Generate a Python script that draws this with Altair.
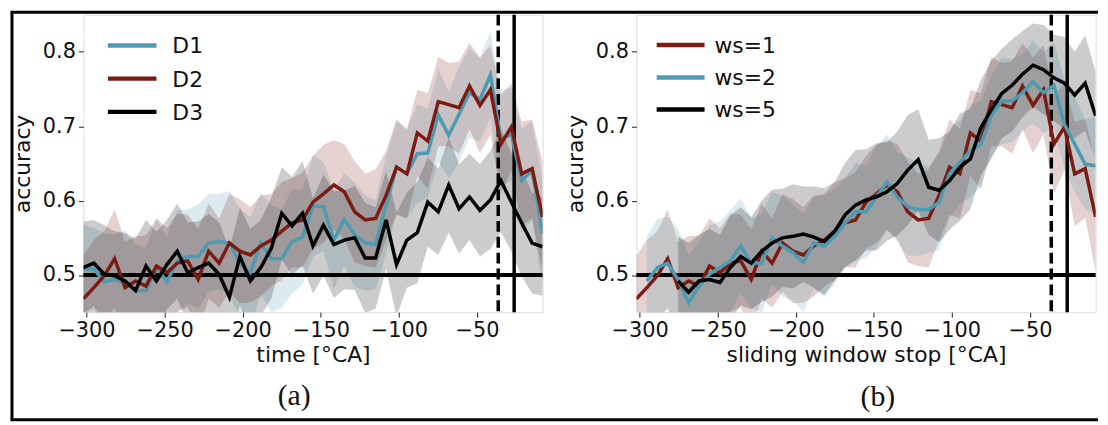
import altair as alt
import pandas as pd

# ---------------- data ----------------
x_deg = [-302.0, -295.3, -288.6, -282.0, -275.3, -268.6, -261.9, -255.2, -248.5, -241.9,
         -235.2, -228.5, -221.8, -215.1, -208.5, -201.8, -195.1, -188.4, -181.7, -175.0,
         -168.4, -161.7, -155.0, -148.3, -141.6, -135.0, -128.3, -121.6, -114.9, -108.2,
         -101.5, -94.9, -88.2, -81.5, -74.8, -68.1, -61.5, -54.8, -48.1, -41.4,
         -34.7, -28.0, -21.4, -14.7, -8.0]

x_ticks = [-300, -250, -200, -150, -100, -50]
y_ticks = [0.5, 0.6, 0.7, 0.8]

# panel (a)
d1 = [0.508, 0.508, 0.491, 0.494, 0.490, 0.479, 0.479, 0.510, 0.491, 0.519,
      0.525, 0.525, 0.543, 0.545, 0.543, 0.516, 0.503, 0.543, 0.522, 0.522,
      0.545, 0.551, 0.593, 0.592, 0.547, 0.575, 0.554, 0.543, 0.541, 0.594,
      0.645, 0.636, 0.663, 0.664, 0.715, 0.688, 0.716, 0.745, 0.736, 0.769,
      0.683, 0.689, 0.627, 0.640, 0.556]
d2 = [0.468, 0.483, 0.499, 0.522, 0.483, 0.492, 0.485, 0.512, 0.503, 0.516,
      0.519, 0.494, 0.532, 0.516, 0.543, 0.532, 0.527, 0.539, 0.547, 0.559,
      0.570, 0.574, 0.598, 0.609, 0.621, 0.612, 0.585, 0.574, 0.576, 0.607,
      0.645, 0.636, 0.691, 0.680, 0.733, 0.729, 0.725, 0.754, 0.728, 0.749,
      0.676, 0.699, 0.636, 0.643, 0.578]
d3 = [0.510, 0.516, 0.501, 0.499, 0.492, 0.479, 0.512, 0.492, 0.514, 0.532,
      0.503, 0.510, 0.516, 0.501, 0.470, 0.525, 0.492, 0.510, 0.536, 0.583,
      0.566, 0.583, 0.539, 0.567, 0.541, 0.547, 0.550, 0.523, 0.523, 0.574,
      0.514, 0.547, 0.557, 0.598, 0.585, 0.621, 0.589, 0.605, 0.587, 0.601,
      0.627, 0.598, 0.570, 0.543, 0.538]
d1_sd = [0.060, 0.055, 0.065, 0.060, 0.070, 0.062, 0.058, 0.066, 0.060, 0.068,
         0.063, 0.070, 0.066, 0.064, 0.070, 0.072, 0.075, 0.068, 0.072, 0.066,
         0.070, 0.064, 0.068, 0.060, 0.066, 0.062, 0.070, 0.064, 0.060, 0.066,
         0.062, 0.060, 0.066, 0.060, 0.062, 0.058, 0.064, 0.060, 0.056, 0.058,
         0.066, 0.062, 0.070, 0.066, 0.072]
d2_sd = [0.058, 0.064, 0.060, 0.066, 0.062, 0.060, 0.068, 0.064, 0.060, 0.066,
         0.062, 0.068, 0.064, 0.060, 0.066, 0.070, 0.064, 0.068, 0.062, 0.066,
         0.060, 0.064, 0.062, 0.066, 0.060, 0.064, 0.068, 0.062, 0.066, 0.060,
         0.064, 0.060, 0.058, 0.064, 0.060, 0.056, 0.062, 0.058, 0.064, 0.060,
         0.066, 0.058, 0.070, 0.066, 0.074]
d3_sd = [0.062, 0.058, 0.066, 0.060, 0.064, 0.070, 0.062, 0.066, 0.060, 0.064,
         0.068, 0.062, 0.066, 0.070, 0.064, 0.066, 0.070, 0.064, 0.068, 0.062,
         0.066, 0.070, 0.064, 0.068, 0.072, 0.066, 0.070, 0.074, 0.068, 0.066,
         0.070, 0.064, 0.068, 0.060, 0.058, 0.064, 0.060, 0.058, 0.062, 0.066,
         0.070, 0.066, 0.072, 0.068, 0.066]

# panel (b)
ws1 = d2
ws1_sd = d2_sd
ws2 = [None, 0.492, 0.510, 0.516, 0.494, 0.463, 0.485, 0.501, 0.510, 0.519,
       0.539, 0.516, 0.516, 0.550, 0.539, 0.530, 0.517, 0.543, 0.539, 0.552,
       0.570, 0.585, 0.585, 0.605, 0.625, 0.605, 0.592, 0.588, 0.588, 0.598,
       0.636, 0.652, 0.667, 0.676, 0.714, 0.734, 0.734, 0.745, 0.760, 0.745,
       0.755, 0.703, 0.676, 0.649, 0.647]
ws2_sd = [None, 0.060, 0.066, 0.062, 0.068, 0.064, 0.060, 0.066, 0.062, 0.068,
          0.064, 0.060, 0.066, 0.062, 0.068, 0.064, 0.066, 0.062, 0.068, 0.064,
          0.060, 0.066, 0.062, 0.068, 0.064, 0.060, 0.066, 0.062, 0.058, 0.064,
          0.060, 0.056, 0.062, 0.058, 0.054, 0.058, 0.056, 0.052, 0.056, 0.054,
          0.058, 0.060, 0.064, 0.060, 0.066]
ws5 = [None, None, None, None, 0.492, 0.477, 0.492, 0.494, 0.490, 0.510,
       0.525, 0.516, 0.532, 0.543, 0.550, 0.552, 0.555, 0.551, 0.545, 0.559,
       0.581, 0.594, 0.601, 0.605, 0.612, 0.623, 0.641, 0.655, 0.618, 0.614,
       0.627, 0.645, 0.656, 0.698, 0.722, 0.744, 0.755, 0.770, 0.782, 0.776,
       0.765, 0.758, 0.742, 0.758, 0.714]
ws5_sd = [None, None, None, None, 0.060, 0.066, 0.062, 0.068, 0.064, 0.070,
          0.066, 0.062, 0.068, 0.072, 0.066, 0.070, 0.064, 0.068, 0.072, 0.066,
          0.070, 0.074, 0.068, 0.072, 0.066, 0.070, 0.074, 0.068, 0.064, 0.070,
          0.066, 0.072, 0.068, 0.064, 0.066, 0.060, 0.062, 0.058, 0.056, 0.060,
          0.058, 0.062, 0.058, 0.064, 0.060]

chance_level = [0.5]
vline_dashed = [-36.4]
vline_solid = [-26.2]

TEAL = "#4c9bb0"
DRED = "#7b1b12"
BLACK = "#000000"

FONT = "DejaVu Sans"
TXT = "#111111"


def build_df(names, means, sds):
    rows = []
    for name, m, s in zip(names, means, sds):
        for xv, mv, sv in zip(x_deg, m, s):
            if mv is None:
                continue
            rows.append({"x": xv, "acc": mv, "lo": mv - sv, "hi": mv + sv, "series": name})
    return pd.DataFrame(rows)


def panel(names, means, sds, colors, xtitle, caption, cap_dx, cap_offset, leg, with_frame):
    df = build_df(names, means, sds)
    xscale = alt.Scale(domain=[-302, -8], nice=False, zero=False)
    yscale = alt.Scale(domain=[0.45, 0.85], nice=False, zero=False)
    xaxis = alt.Axis(values=x_ticks, title=xtitle, grid=False, domain=False,
                     tickSize=5, tickColor="#222", labelFontSize=21, titleFontSize=22,
                     labelFont=FONT, titleFont=FONT, labelColor=TXT, titleColor=TXT,
                     titleFontWeight="normal", labelPadding=3, titlePadding=4,
                     labelFlush=False)
    yaxis = alt.Axis(values=y_ticks, format=".1f", title="accuracy", grid=False, domain=False,
                     tickSize=5, tickColor="#222", labelFontSize=21, titleFontSize=22,
                     labelFont=FONT, titleFont=FONT, labelColor=TXT, titleColor=TXT,
                     titleFontWeight="normal", labelPadding=3, titlePadding=8)
    cscale = alt.Scale(domain=names, range=colors)
    X = alt.X("x:Q", scale=xscale, axis=xaxis)

    layers = []
    # confidence bands, one per series, drawn in legend order
    for name, col in zip(names, colors):
        layers.append(
            alt.Chart(df).transform_filter(alt.datum.series == name)
            .mark_area(color=col, opacity=0.2, clip=True)
            .encode(x=X, y=alt.Y("lo:Q", scale=yscale, axis=yaxis), y2="hi:Q")
        )
    layers.append(
        alt.Chart(pd.DataFrame({"y": chance_level})).mark_rule(color="black", strokeWidth=4)
        .encode(y=alt.Y("y:Q", scale=yscale, axis=yaxis))
    )
    layers.append(
        alt.Chart(pd.DataFrame({"v": vline_dashed}))
        .mark_rule(color="black", strokeWidth=3.5, strokeDash=[11, 5])
        .encode(x=alt.X("v:Q", scale=xscale, axis=xaxis))
    )
    layers.append(
        alt.Chart(pd.DataFrame({"v": vline_solid})).mark_rule(color="black", strokeWidth=3.5)
        .encode(x=alt.X("v:Q", scale=xscale, axis=xaxis))
    )
    layers.append(
        alt.Chart(df).mark_line(strokeWidth=3.5, clip=True).encode(
            x=X,
            y=alt.Y("acc:Q", scale=yscale, axis=yaxis),
            stroke=alt.Stroke("series:N", scale=cscale, sort=names, legend=None),
        )
    )
    # legend (drawn as a key: short line + label per series)
    lx0, lx1, tx, rows = leg
    one = pd.DataFrame({"k": [0]})
    for name, col, ry in zip(names, colors, rows):
        layers.append(alt.Chart(one).mark_rule(color=col, strokeWidth=4.5)
                      .encode(x=alt.value(lx0), x2=alt.value(lx1), y=alt.value(ry)))
        layers.append(alt.Chart(one).mark_text(text=name, align="left", baseline="middle",
                                               font=FONT, fontSize=22, color=TXT)
                      .encode(x=alt.value(tx), y=alt.value(ry + 1)))
    if with_frame:
        fr = alt.Chart(one).mark_rule(color="black", strokeWidth=3)
        layers += [
            fr.encode(x=alt.value(-72), y=alt.value(-2.5), y2=alt.value(408.5)),
            fr.encode(x=alt.value(-73.5), x2=alt.value(1023), y=alt.value(-2.5)),
            fr.encode(x=alt.value(-73.5), x2=alt.value(1023), y=alt.value(408.5)),
        ]
    return alt.layer(*layers).properties(
        width=463, height=300,
        title=alt.TitleParams(text=caption, orient="bottom", frame="group", offset=cap_offset,
                              font="Liberation Serif", fontSize=30, fontWeight="normal",
                              color=TXT, anchor="middle", dx=cap_dx),
    )


pa = panel(["D1", "D2", "D3"], [d1, d2, d3], [d1_sd, d2_sd, d3_sd],
           [TEAL, DRED, BLACK], "time [°CA]", "(a)", -19, -40,
           (24.7, 73.7, 89.7, [31.0, 64.5, 98.0]), True)
pb = panel(["ws=1", "ws=2", "ws=5"], [ws1, ws2, ws5], [ws1_sd, ws2_sd, ws5_sd],
           [DRED, TEAL, BLACK], "sliding window stop [°CA]", "(b)", 12, 17,
           (20.4, 68.7, 78.7, [30.6, 63.3, 95.6]), False)

chart = alt.hconcat(pa, pb, spacing=94.6, bounds="flush").resolve_scale(
    stroke="independent"
).properties(padding=0).configure_view(
    stroke="#333", strokeWidth=1
).configure(font=FONT)

chart.save("out.html", embed_options={"renderer": "svg", "actions": False})
